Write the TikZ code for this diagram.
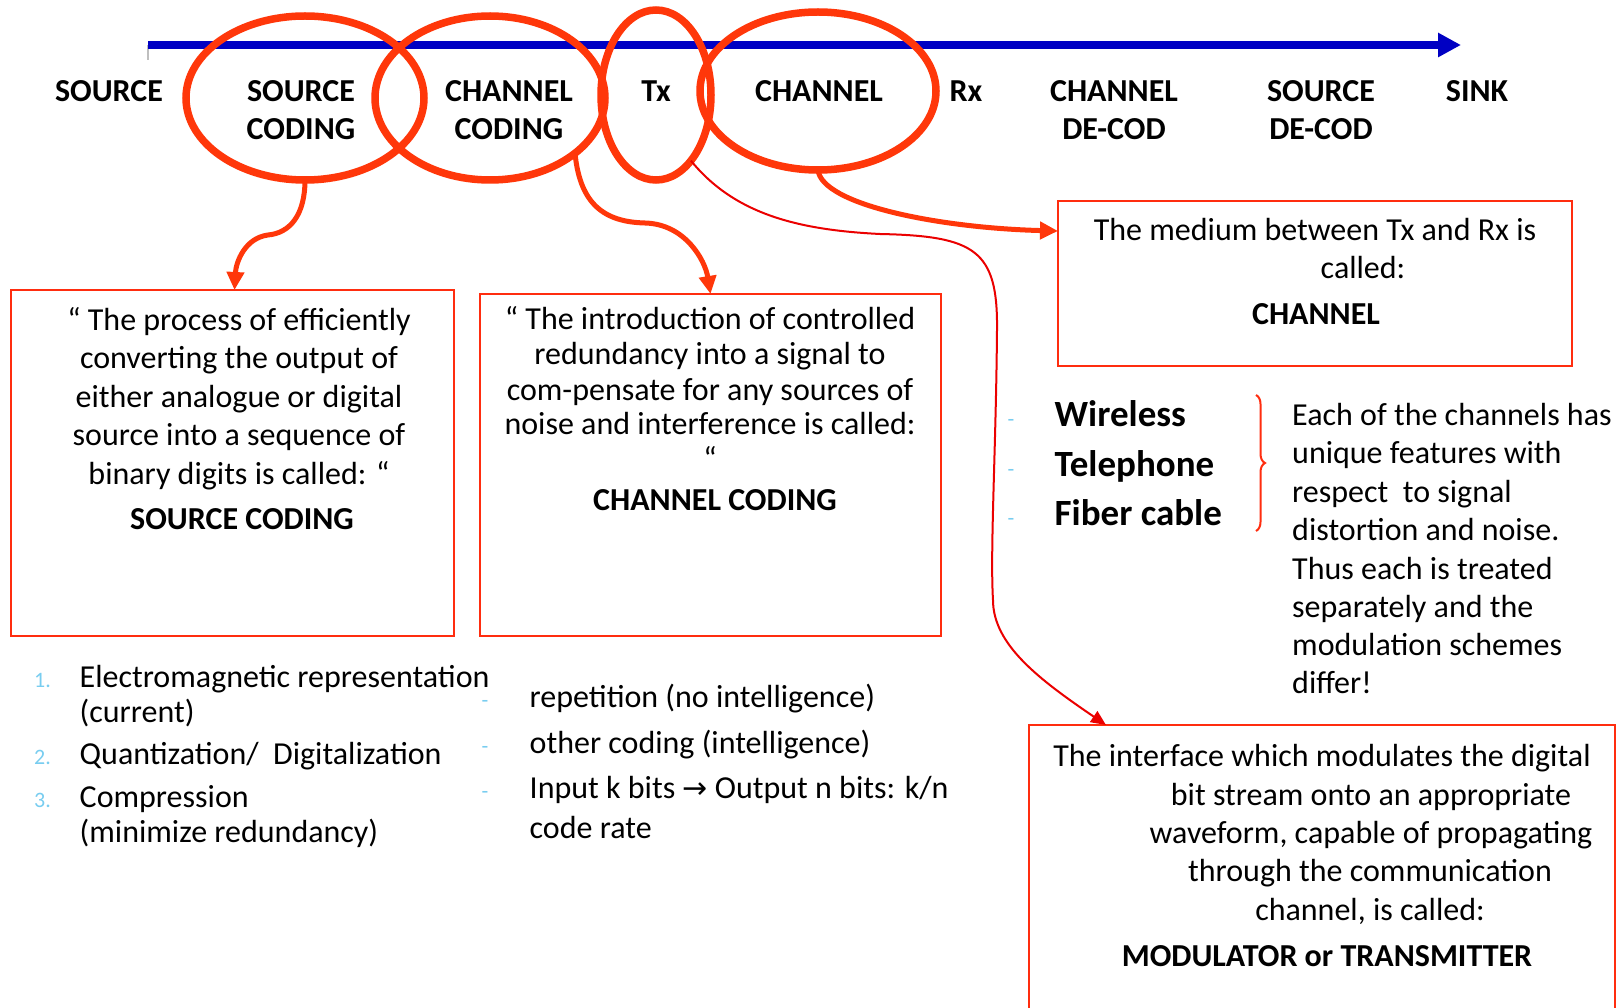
\documentclass[tikz,border=0pt]{standalone}
\usepackage{fontspec}
\setmainfont{Carlito}
\newfontfamily\dejavu{DejaVu Sans}
\usetikzlibrary{shapes.geometric,arrows.meta,decorations.pathreplacing,calc}
\definecolor{ored}{RGB}{255,55,10}
\definecolor{bred}{RGB}{255,45,15}
\definecolor{tred}{RGB}{235,0,0}
\definecolor{dblue}{RGB}{0,0,195}
\definecolor{lblue}{RGB}{120,205,240}
\begin{document}
\begin{tikzpicture}[x=1pt,y=-1pt,
  ell/.style={ellipse,draw=ored,line width=7.5pt,inner sep=0pt,outer sep=0pt},
  boxn/.style={draw=bred,line width=2pt,inner sep=0pt,outer sep=0pt,anchor=north west},
  lbl/.style={font=\fontsize{32}{38}\selectfont\bfseries,inner sep=0pt,anchor=base},
  txt/.style={font=\fontsize{32}{38}\selectfont,inner sep=0pt,anchor=base},
  txtw/.style={font=\fontsize{32}{38}\selectfont,inner sep=0pt,anchor=base west},
  bigw/.style={font=\fontsize{37}{44}\selectfont\bfseries,inner sep=0pt,anchor=base west},
  numw/.style={font=\fontsize{22}{26}\selectfont,text=lblue,inner sep=0pt,anchor=base west},
  dashn/.style={font=\fontsize{22}{26}\selectfont,text=lblue,inner sep=0pt,anchor=base},
  bigarrow/.style={draw=ored,line width=5pt,-{Triangle[length=18pt,width=17pt]}},
  thinarrow/.style={draw=tred,line width=2pt,-{Triangle[length=15pt,width=13pt]}}
]
\useasboundingbox (0,0) rectangle (1618,1008);
\fill[white] (0,0) rectangle (1618,1008);
\clip (0,0) rectangle (1618,1008);

% timeline
\coordinate (bs) at (148,45);
\coordinate (be) at (1461,45);
\draw[gray!50,line width=1.5pt] (bs) -- ++(0,15);
\draw[dblue,line width=7.5pt,-{Triangle[length=23pt,width=23pt]}] (bs) -- (be);

% ellipses
\node[ell,minimum width=238pt,minimum height=164pt] (sc) at (305,98) {};
\node[ell,minimum width=230pt,minimum height=164pt] (cc) at (490,98) {};
\node[ell,minimum width=110pt,minimum height=170pt] (tx) at (656,95) {};
\node[ell,minimum width=236pt,minimum height=158pt] (ch) at (818,91) {};

% top labels
\node[lbl] (lsrc) at (109,102) {SOURCE};
\node[lbl] (lsc1) at (301,102) {SOURCE};
\node[lbl] (lsc2) at (301,140) {CODING};
\node[lbl] (lcc1) at (509,102) {CHANNEL};
\node[lbl] (lcc2) at (509,140) {CODING};
\node[lbl] (ltx) at (656,102) {Tx};
\node[lbl] (lch) at (819,102) {CHANNEL};
\node[lbl] (lrx) at (966,102) {Rx};
\node[lbl] (lcd1) at (1114,102) {CHANNEL};
\node[lbl] (lcd2) at (1114,140) {DE-COD};
\node[lbl] (lsd1) at (1321,102) {SOURCE};
\node[lbl] (lsd2) at (1321,140) {DE-COD};
\node[lbl] (lsink) at (1477,102) {SINK};

% boxes
\node[boxn,minimum width=443pt,minimum height=346pt] (boxA) at (11,290) {};
\node[boxn,minimum width=461pt,minimum height=342pt] (boxB) at (480,294) {};
\node[boxn,minimum width=514pt,minimum height=165pt] (boxC) at (1058,201) {};
\node[boxn,minimum width=586pt,minimum height=320pt] (boxD) at (1029,725) {};

% box A text
\node[txt] (a1) at (239,331) {“ The process of efficiently};
\node[txt] (a2) at (239,369) {converting the output of};
\node[txt] (a3) at (239,407) {either analogue or digital};
\node[txt] (a4) at (239,445) {source into a sequence of};
\node[txt] (a5) at (239,484) {binary digits is called: “};
\node[lbl] (a6) at (242,529) {SOURCE CODING};

% box B text
\node[txt] (b1) at (710,330) {“ The introduction of controlled};
\node[txt] (b2) at (710,365) {redundancy into a signal to};
\node[txt] (b3) at (710,400) {com-pensate for any sources of};
\node[txt] (b4) at (710,434) {noise and interference is called:};
\node[txt] (b5) at (710,469) {“};
\node[lbl] (b6) at (715,510) {CHANNEL CODING};

% box C text
\node[txt] (c1) at (1315,241) {The medium between Tx and Rx is};
\node[txt] (c2) at (1363,279) {called:};
\node[lbl] (c3) at (1316,325) {CHANNEL};

% box D text
\node[txt] (d1) at (1322,766) {The interface which modulates the digital};
\node[txt] (d2) at (1371,805) {bit stream onto an appropriate};
\node[txt] (d3) at (1371,843) {waveform, capable of propagating};
\node[txt] (d4) at (1370,881) {through the communication};
\node[txt] (d5) at (1370,920) {channel, is called:};
\node[lbl] (d6) at (1327,966) {MODULATOR or TRANSMITTER};

% left list
\node[numw] (n1) at (34,687) {1.};
\node[numw] (n2) at (34,764) {2.};
\node[numw] (n3) at (34,807) {3.};
\node[txtw] (l1) at (79.5,687) {Electromagnetic representation};
\node[txtw] (l2) at (79.5,722) {(current)};
\node[txtw] (l3) at (79.5,764) {Quantization/\ \ Digitalization};
\node[txtw] (l4) at (79.5,807) {Compression};
\node[txtw] (l5) at (79.5,842) {(minimize redundancy)};

% middle list
\node[dashn] (m0a) at (485,707) {-};
\node[dashn] (m0b) at (485,753) {-};
\node[dashn] (m0c) at (485,798) {-};
\node[txtw] (m1) at (529.5,707) {repetition (no intelligence)};
\node[txtw] (m2) at (529.5,753) {other coding (intelligence)};
\node[txtw] (m3) at (529.5,798) {Input k bits {\dejavu\fontsize{30}{32}\selectfont →} Output n bits: k/n};
\node[txtw] (m4) at (529.5,838) {code rate};

% right list
\node[dashn] (r0a) at (1011,426) {-};
\node[dashn] (r0b) at (1011,476) {-};
\node[dashn] (r0c) at (1011,525) {-};
\node[bigw] (r1) at (1054.5,426) {Wireless};
\node[bigw] (r2) at (1054.5,476) {Telephone};
\node[bigw] (r3) at (1054.5,525) {Fiber cable};
\draw[bred,line width=2pt,decorate,decoration={brace,amplitude=9pt}] (1256,395) -- (1256,531);

% right description
\node[txtw] (e1) at (1292,425) {Each of the channels has};
\node[txtw] (e2) at (1292,463) {unique features with};
\node[txtw] (e3) at (1292,502) {respect\ \ to signal};
\node[txtw] (e4) at (1292,540) {distortion and noise.};
\node[txtw] (e5) at (1292,579) {Thus each is treated};
\node[txtw] (e6) at (1292,617) {separately and the};
\node[txtw] (e7) at (1292,655) {modulation schemes};
\node[txtw] (e8) at (1292,693) {differ!};

% connectors
\draw[bigarrow] (sc.south) .. controls (305,215) and (290,233) .. (268,235)
   .. controls (245,238) and (236,262) .. ([xshift=2pt]boxA.north);
\draw[bigarrow] (cc.-33) .. controls (580,205) and (605,222) .. (645,223)
   .. controls (685,224) and (705,260) .. (boxB.north);
\draw[bigarrow] (ch.south) .. controls (822,205) and (940,228) .. ([yshift=-30pt]boxC.north west);
\draw[thinarrow] (tx.-62) .. controls (735,215) and (800,230) .. (880,234)
   .. controls (975,236) and (998,250) .. (997,330)
   .. controls (996,450) and (990,550) .. (993,600)
   .. controls (993,645) and (1040,680) .. ([xshift=77pt]boxD.north west);
\end{tikzpicture}
\end{document}
